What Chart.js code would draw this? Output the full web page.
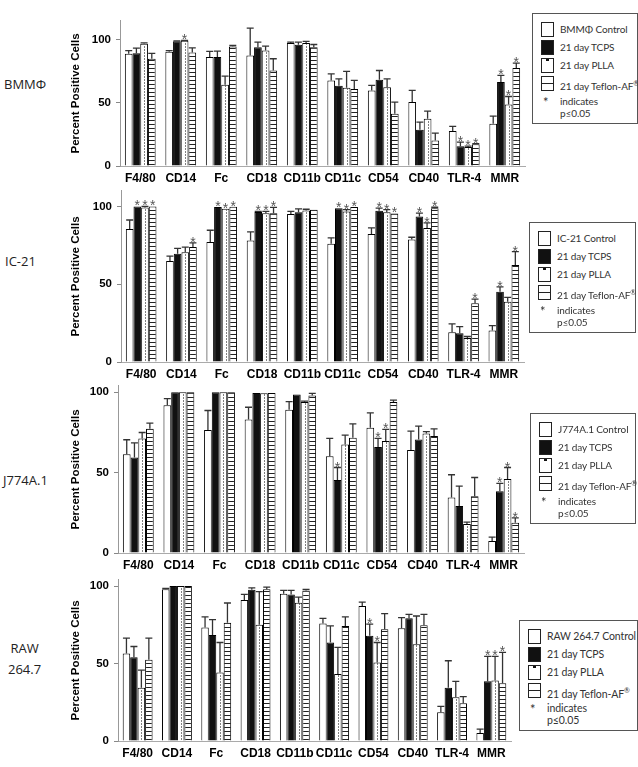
<!DOCTYPE html>
<html>
<head>
<meta charset="utf-8">
<script src="https://cdn.jsdelivr.net/npm/chart.js@4.4.1/dist/chart.umd.min.js"></script>
<style>
body { margin: 0; background: #fff; }
#page { position: relative; width: 638px; height: 767px; overflow: hidden; background: #fff; }
canvas { position: absolute; }
.rowlab { position: absolute; font-family: 'Open Sans', sans-serif; font-size: 13px; color: #222; line-height: 21px; text-align: center; }
.legend { position: absolute; border: 1px solid #555; background: #fff; box-sizing: border-box;
  font-family: Lato, sans-serif; font-size: 10px; letter-spacing: -0.1px; color: #333; padding-top: 6px; }
.item { height: 18px; line-height: 18px; position: relative; padding-left: 27px; white-space: nowrap; }
.sw { position: absolute; left: 8px; top: 2px; width: 11px; height: 13px; border: 1px solid #222; background: #fff; }
.sw.tcps { background: #111; }
.sw.plla::after { content: ''; position: absolute; left: 4px; top: 0; width: 3px; height: 2px; background: #111; }
.sw.teflon { background: linear-gradient(#fff 0, #fff 6px, #222 6px, #222 7px, #fff 7px); }
.note { position: relative; padding-left: 27px; line-height: 12px; margin-top: 3px; }
.note .ast { position: absolute; left: 10px; top: 1px; font-size: 13px; }
sup { font-size: 7px; }
</style>
</head>
<body>
<div id="page">
  <canvas id="c1"></canvas>
  <canvas id="c2"></canvas>
  <canvas id="c3"></canvas>
  <canvas id="c4"></canvas>

  <div class="rowlab" style="left:4px;top:74px;">BMMΦ</div>
  <div class="rowlab" style="left:5px;top:251px;">IC-21</div>
  <div class="rowlab" style="left:3px;top:470px;">J774A.1</div>
  <div class="rowlab" style="left:8px;top:638px;">RAW<br>264.7</div>

  <div class="legend" style="left:532px;top:13px;width:106px;height:111px;">
    <div class="item"><span class="sw"></span>BMMΦ Control</div>
    <div class="item"><span class="sw tcps"></span>21 day TCPS</div>
    <div class="item"><span class="sw plla"></span>21 day PLLA</div>
    <div class="item"><span class="sw teflon"></span>21 day Teflon-AF<sup>®</sup></div>
    <div class="note"><span class="ast">*</span>indicates<br>p≤0.05</div>
  </div>
  <div class="legend" style="left:529px;top:222px;width:107px;height:111px;">
    <div class="item"><span class="sw"></span>IC-21 Control</div>
    <div class="item"><span class="sw tcps"></span>21 day TCPS</div>
    <div class="item"><span class="sw plla"></span>21 day PLLA</div>
    <div class="item"><span class="sw teflon"></span>21 day Teflon-AF<sup>®</sup></div>
    <div class="note"><span class="ast">*</span>indicates<br>p≤0.05</div>
  </div>
  <div class="legend" style="left:530px;top:413px;width:106px;height:111px;">
    <div class="item"><span class="sw"></span>J774A.1 Control</div>
    <div class="item"><span class="sw tcps"></span>21 day TCPS</div>
    <div class="item"><span class="sw plla"></span>21 day PLLA</div>
    <div class="item"><span class="sw teflon"></span>21 day Teflon-AF<sup>®</sup></div>
    <div class="note"><span class="ast">*</span>indicates<br>p≤0.05</div>
  </div>
  <div class="legend" style="left:519px;top:620px;width:119px;height:111px;font-size:10.5px;">
    <div class="item"><span class="sw"></span>RAW 264.7 Control</div>
    <div class="item"><span class="sw tcps"></span>21 day TCPS</div>
    <div class="item"><span class="sw plla"></span>21 day PLLA</div>
    <div class="item"><span class="sw teflon"></span>21 day Teflon-AF<sup>®</sup></div>
    <div class="note"><span class="ast">*</span>indicates<br>p≤0.05</div>
  </div>
</div>
<script>
// markers on the x axis
var categories = ['F4/80', 'CD14', 'Fc', 'CD18', 'CD11b', 'CD11c', 'CD54', 'CD40', 'TLR-4', 'MMR'];
var seriesNames = ['Control', '21 day TCPS', '21 day PLLA', '21 day Teflon-AF'];
var yTicks = [0, 50, 100];

// BMMΦ  (mean %, error bar height, indexes with p<=0.05)
var bmmControl = [88.9, 90.5, 86.3, 87.6, 97.4, 67.8, 59.9, 50.7, 27.7, 33.5];
var bmmControlErr = [2.6, 1.0, 4.5, 21.6, 0.8, 5.2, 4.0, 9.2, 3.7, 6.1];
var bmmTcps = [89.4, 98.9, 86.3, 94.2, 96.0, 63.6, 68.3, 28.8, 15.6, 66.5];
var bmmTcpsErr = [4.0, 0.3, 4.7, 4.0, 2.2, 5.5, 7.4, 6.0, 3.4, 5.3];
var bmmPlla = [96.8, 99.2, 64.4, 91.5, 97.4, 62.0, 62.5, 37.5, 15.0, 48.8];
var bmmPllaErr = [0.8, 0.3, 6.8, 3.5, 1.3, 13.0, 6.6, 6.0, 0.8, 6.3];
var bmmTeflon = [85.0, 90.0, 94.7, 75.7, 94.2, 61.0, 41.4, 20.3, 17.2, 77.6];
var bmmTeflonErr = [4.2, 3.7, 0.8, 9.3, 2.1, 6.8, 9.3, 5.8, 0.5, 3.9];
var bmmSig = [[], [8, 9], [1, 8, 9], [8, 9]];

// IC-21
var icControl = [85.5, 64.9, 77.2, 78.1, 95.1, 76.0, 82.3, 78.7, 19.1, 20.2];
var icControlErr = [5.8, 3.2, 7.5, 5.5, 1.7, 3.8, 3.9, 1.5, 5.4, 3.2];
var icTcps = [100, 69.6, 99.6, 96.4, 96.2, 98.9, 97.2, 93.6, 18.5, 45.1];
var icTcpsErr = [0, 3.4, 0, 0.4, 2.3, 0, 1.7, 2.1, 4.3, 3.2];
var icPlla = [99.4, 70.6, 98.5, 95.7, 97.4, 96.8, 96.2, 86.2, 15.5, 38.7];
var icPllaErr = [0.6, 3.2, 0, 1.1, 0.8, 1.1, 1.7, 3.2, 0.9, 2.8];
var icTeflon = [100, 74.0, 99.8, 95.7, 97.9, 99.6, 95.5, 98.9, 37.7, 62.3];
var icTeflonErr = [0, 2.6, 0, 3.7, 0, 0, 0, 0.6, 2.7, 8.6];
var icSig = [[], [0, 2, 3, 5, 6, 7, 9], [0, 2, 3, 5, 6, 7], [0, 1, 2, 3, 5, 6, 7, 8, 9]];

// J774A.1
var jControl = [61.4, 92.0, 76.5, 83.1, 89.1, 60.2, 77.9, 64.1, 34.6, 7.4];
var jControlErr = [9.1, 4.1, 12.2, 7.6, 5.1, 11.1, 9.3, 11.8, 14.1, 2.5];
var jTcps = [59.4, 100, 100, 99.6, 98.6, 45.4, 66.0, 70.7, 29.3, 38.4];
var jTcpsErr = [9.1, 0, 0, 0, 0, 7.8, 5.3, 8.3, 12.3, 4.9];
var jPlla = [71.3, 100, 100, 99.4, 94.0, 67.6, 69.7, 74.4, 18.1, 46.0];
var jPllaErr = [3.7, 0, 0, 0, 0.5, 5.8, 7.2, 1.1, 1.1, 7.2];
var jTeflon = [77.3, 100, 100, 99.6, 98.1, 71.8, 94.0, 72.8, 35.3, 18.8];
var jTeflonErr = [3.5, 0, 0, 0, 1.3, 8.6, 1.2, 4.5, 11.7, 3.1];
var jSig = [[], [5, 6, 9], [6, 9], [9]];

// RAW 264.7
var rawControl = [56.5, 97.9, 73.2, 91.0, 95.1, 75.8, 87.2, 72.8, 18.6, 5.1];
var rawControlErr = [9.9, 0.6, 6.9, 3.6, 2.1, 3.4, 2.5, 6.9, 3.7, 2.6];
var rawTcps = [54.0, 100, 68.5, 97.6, 94.6, 63.6, 67.9, 79.2, 34.3, 38.5];
var rawTcpsErr = [7.0, 0, 9.9, 1.3, 2.6, 10.7, 7.5, 2.6, 17.5, 16.1];
var rawPlla = [34.3, 100, 44.3, 75.0, 89.3, 43.3, 50.7, 62.5, 28.3, 39.0];
var rawPllaErr = [11.5, 0, 19.3, 21.4, 3.6, 17.1, 12.9, 18.2, 10.2, 15.6];
var rawTeflon = [52.5, 100, 76.4, 97.9, 97.2, 74.3, 72.2, 74.7, 24.4, 37.3];
var rawTeflonErr = [13.9, 0, 12.7, 1.5, 0.7, 5.8, 10.0, 7.1, 4.3, 19.9];
var rawSig = [[], [6, 9], [6, 9], [9]];

// horizontal stripes for the Teflon bars
function stripes() {
    var tile = document.createElement('canvas');
    tile.width = 4; tile.height = 4;
    var g = tile.getContext('2d');
    g.fillStyle = '#fff'; g.fillRect(0, 0, 4, 4);
    g.fillStyle = '#222'; g.fillRect(0, 3, 4, 1);
    return g.createPattern(tile, 'repeat');
}

// error bars, dotted PLLA centre line and the * marks
var barExtras = {
    id: 'barExtras',
    afterDatasetsDraw: function (chart) {
        var ctx = chart.ctx, y = chart.scales.y;
        ctx.save();
        chart.data.datasets.forEach(function (ds, i) {
            chart.getDatasetMeta(i).data.forEach(function (bar, j) {
                if (ds.dotted) {
                    ctx.setLineDash([1, 2]);
                    ctx.strokeStyle = '#000';
                    ctx.lineWidth = 1;
                    ctx.beginPath();
                    ctx.moveTo(Math.round(bar.x) + 0.5, bar.base - 1);
                    ctx.lineTo(Math.round(bar.x) + 0.5, bar.y + 1);
                    ctx.stroke();
                    ctx.setLineDash([]);
                }
                var top = y.getPixelForValue(ds.data[j] + ds.errors[j]);
                if (ds.errors[j] > 0.2) {
                    ctx.strokeStyle = '#333';
                    ctx.lineWidth = 1.3;
                    ctx.beginPath();
                    ctx.moveTo(bar.x, bar.y);
                    ctx.lineTo(bar.x, top);
                    ctx.moveTo(bar.x - 3.5, top);
                    ctx.lineTo(bar.x + 3.5, top);
                    ctx.stroke();
                }
                if (ds.sig.indexOf(j) >= 0) {
                    ctx.fillStyle = '#555';
                    ctx.font = '14px "Liberation Sans"';
                    ctx.textAlign = 'center';
                    ctx.textBaseline = 'alphabetic';
                    ctx.fillText('*', bar.x, top + 4);
                }
            });
        });
        ctx.restore();
    }
};

function panel(p, means, errs, sig) {
    var L = 69;
    var top = p.zero - p.ymax * p.per100 / 100;
    var canvasTop = Math.floor(top) - 10;
    var canvas = document.getElementById(p.id);
    canvas.width = Math.round(p.axisX - L + p.catW * 10 + 10);
    canvas.height = Math.round(p.zero - canvasTop + 24);
    canvas.style.left = L + 'px';
    canvas.style.top = canvasTop + 'px';

    var fills = ['#fff', '#111', '#fff', stripes()];
    var datasets = means.map(function (m, i) {
        return {
            label: seriesNames[i],
            data: m,
            errors: errs[i],
            sig: sig[i],
            dotted: i === 2,
            backgroundColor: fills[i],
            borderColor: '#000',
            borderWidth: 1,
            barPercentage: 1,
            categoryPercentage: 0.76
        };
    });

    return new Chart(canvas, {
        type: 'bar',
        data: { labels: categories, datasets: datasets },
        plugins: [barExtras],
        options: {
            responsive: false,
            animation: false,
            devicePixelRatio: 1,
            layout: { padding: { top: top - canvasTop, right: 10, left: 0, bottom: 0 } },
            plugins: { legend: { display: false }, tooltip: { enabled: false } },
            scales: {
                x: {
                    grid: { display: false, drawTicks: false },
                    border: { color: '#aaa' },
                    ticks: { color: '#000', padding: 5, maxRotation: 0, autoSkip: false,
                        font: { family: 'Liberation Sans', size: 12, weight: 'bold' } },
                    afterFit: function (s) { s.height = 24; }
                },
                y: {
                    min: 0,
                    max: p.ymax,
                    grid: { drawOnChartArea: false, tickLength: 4, color: '#888' },
                    border: { color: '#999' },
                    ticks: { stepSize: 50, color: '#000', padding: 5,
                        font: { family: 'Liberation Sans', size: 11.5, weight: 'bold' } },
                    afterBuildTicks: function (s) {
                        s.ticks = yTicks.map(function (v) { return { value: v }; });
                    },
                    title: { display: true, text: 'Percent Positive Cells', color: '#000', padding: 0,
                        font: { family: 'Liberation Sans', size: 11.5, weight: 'bold' } },
                    afterFit: function (s) { s.width = p.axisX - L; }
                }
            }
        }
    });
}

panel({ id: 'c1', axisX: 120, catW: 40.5, zero: 166, per100: 127, ymax: 115 },
    [bmmControl, bmmTcps, bmmPlla, bmmTeflon],
    [bmmControlErr, bmmTcpsErr, bmmPllaErr, bmmTeflonErr], bmmSig);
panel({ id: 'c2', axisX: 121, catW: 40.3, zero: 362, per100: 157, ymax: 110 },
    [icControl, icTcps, icPlla, icTeflon],
    [icControlErr, icTcpsErr, icPllaErr, icTeflonErr], icSig);
panel({ id: 'c3', axisX: 118, catW: 40.6, zero: 553, per100: 162, ymax: 104 },
    [jControl, jTcps, jPlla, jTeflon],
    [jControlErr, jTcpsErr, jPllaErr, jTeflonErr], jSig);
panel({ id: 'c4', axisX: 118, catW: 39.3, zero: 741, per100: 156, ymax: 104 },
    [rawControl, rawTcps, rawPlla, rawTeflon],
    [rawControlErr, rawTcpsErr, rawPllaErr, rawTeflonErr], rawSig);
</script>
</body>
</html>
